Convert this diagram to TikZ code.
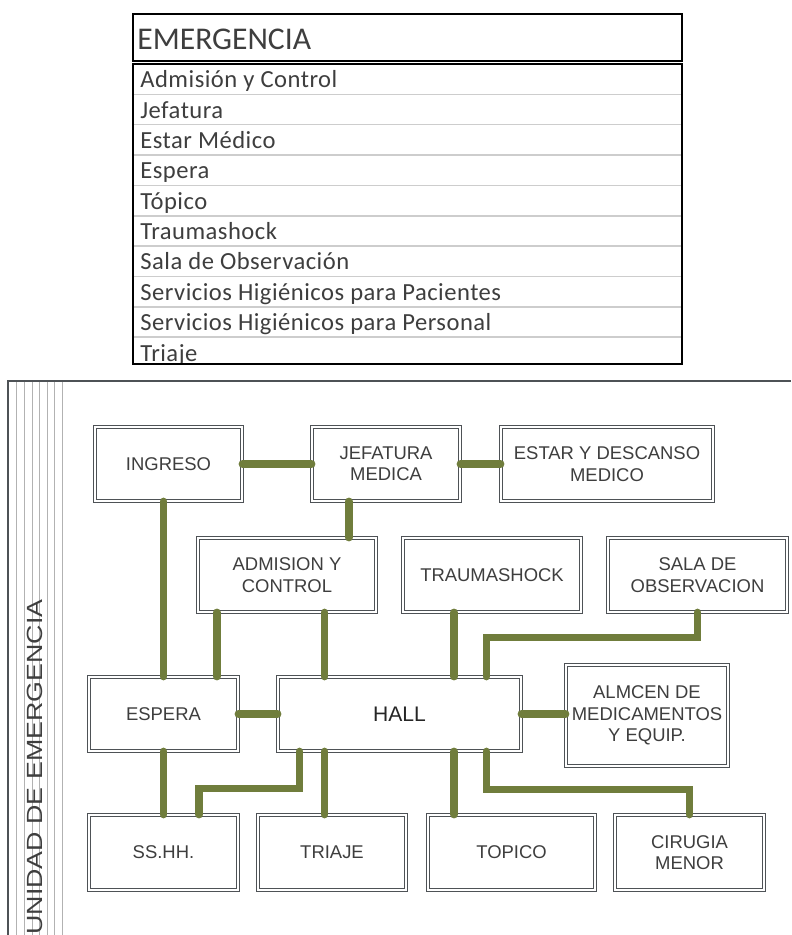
\documentclass[tikz,border=0pt]{standalone}
\usepackage{fontspec}
\setmainfont{Liberation Sans}
\newfontfamily\calfont{Carlito}
\newfontfamily\rowfont{Carlito}[LetterSpace=2]
\usepackage{graphicx}
\usetikzlibrary{calc}
\definecolor{linkgreen}{RGB}{112,125,60}
\definecolor{roomgray}{RGB}{78,82,86}
\definecolor{textgray}{RGB}{62,62,62}
\definecolor{rowgray}{RGB}{205,205,205}
\tikzstyle{room}=[draw=roomgray,line width=0.45pt,double=white,double distance=1.3pt,fill=white,text=textgray,align=center,font=\fontsize{10.5}{12.2}\selectfont,minimum height=1.48cm]
\tikzstyle{link}=[linkgreen,line width=4.3pt,line cap=round]
\tikzstyle{rowtext}=[anchor=base west,inner sep=0pt,text=textgray,font=\rowfont\fontsize{14}{14}\selectfont]

\begin{document}
\begin{tikzpicture}[x=0.02cm,y=-0.02cm]
  \useasboundingbox (0,0) rectangle (791,935);

  % table header
  \draw[line width=1.1pt] (133,14) rectangle (682,61);
  \node[rowtext,font=\calfont\fontsize{18}{18}\selectfont] (title) at (137,50) {EMERGENCIA};

  % table rows
  \begin{scope}
    \clip (133,64) rectangle (682,364);
    \foreach \k in {1,...,9} { \draw[rowgray,line width=0.9pt] (133,{64+30.35*\k}) -- (682,{64+30.35*\k}); }
    \foreach \txt [count=\k] in {Admisión y Control,Jefatura,Estar Médico,Espera,Tópico,Traumashock,Sala de Observación,Servicios Higiénicos para Pacientes,Servicios Higiénicos para Personal,Triaje} {
      \node[rowtext] (row\k) at (140,{64+30.35*\k-6.5}) {\txt};
    }
  \end{scope}
  \draw[line width=1.1pt] (133,64) rectangle (682,364);

  % frame of the unit
  \draw[roomgray,line width=1.1pt] (8,935) -- (8,381) -- (791,381);
  \foreach \x in {16,24,32,39,47,54,62} { \draw[black!30,line width=0.5pt] (\x,382) -- (\x,935); }
  \node[rotate=90,text=textgray,font=\fontsize{12.5}{12.5}\selectfont] (unidad) at (35,767) {\scalebox{1.22}[1]{UNIDAD DE EMERGENCIA}};

  % rooms
  \node[room,minimum width=2.94cm] (ingreso) at (168.5,464) {INGRESO};
  \node[room,minimum width=2.96cm] (jefatura) at (386,464) {JEFATURA\\MEDICA};
  \node[room,minimum width=4.24cm] (estar) at (607,464) {ESTAR Y DESCANSO\\MEDICO};
  \node[room,minimum width=3.56cm] (admision) at (287,575) {ADMISION Y\\CONTROL};
  \node[room,minimum width=3.56cm] (trauma) at (492,575) {TRAUMASHOCK};
  \node[room,minimum width=3.58cm] (sala) at (697.5,575) {SALA DE\\OBSERVACION};
  \node[room,minimum width=2.98cm] (espera) at (163.5,714) {ESPERA};
  \node[room,minimum width=4.86cm,text=black!85,font=\fontsize{12}{12}\selectfont] (hall) at (399.5,714) {HALL};
  \node[room,minimum width=3.24cm,minimum height=2.02cm] (almacen) at (647,715.5) {ALMCEN DE\\MEDICAMENTOS\\Y EQUIP.};
  \node[room,minimum width=2.98cm,minimum height=1.5cm] (sshh) at (163.5,852.5) {SS.HH.};
  \node[room,minimum width=2.96cm,minimum height=1.5cm] (triaje) at (332,852.5) {TRIAJE};
  \node[room,minimum width=3.34cm,minimum height=1.5cm] (topico) at (511.5,852.5) {TOPICO};
  \node[room,minimum width=2.98cm,minimum height=1.5cm] (cirugia) at (689.5,852.5) {CIRUGIA\\MENOR};

  % points on the hall
  \coordinate (ht1) at ($(hall.north west)!0.193!(hall.north east)$);
  \coordinate (ht2) at ($(hall.north west)!0.724!(hall.north east)$);
  \coordinate (ht3) at ($(hall.north west)!0.856!(hall.north east)$);
  \coordinate (hb1) at ($(hall.south west)!0.09!(hall.south east)$);
  \coordinate (hb2) at ($(hall.south west)!0.193!(hall.south east)$);
  \coordinate (hb3) at ($(hall.south west)!0.724!(hall.south east)$);
  \coordinate (hb4) at ($(hall.south west)!0.856!(hall.south east)$);
  \coordinate (jb) at ($(jefatura.south west)!0.25!(jefatura.south east)$);
  \coordinate (ab) at ($(admision.south west)!0.107!(admision.south east)$);
  \coordinate (st) at ($(sshh.north west)!0.738!(sshh.north east)$);

  % connections
  \draw[link] (ingreso.east) -- (jefatura.west);
  \draw[link] (jefatura.east) -- (estar.west);
  \draw[link] (espera.north) -- (espera.north |- ingreso.south);
  \draw[link] (jb) -- (jb |- admision.north);
  \draw[link] (ab) -- (ab |- espera.north);
  \draw[link] (ht1) -- (ht1 |- admision.south);
  \draw[link] (ht2) -- (ht2 |- trauma.south);
  \draw[link] (sala.south) -- ++(0,25) -| (ht3);
  \draw[link] (espera.east) -- (hall.west);
  \draw[link] (hall.east) -- (hall.east -| almacen.west);
  \draw[link] (espera.south) -- (sshh.north);
  \draw[link] (hb1) -- ++(0,37) -| (st);
  \draw[link] (hb2) -- (hb2 |- triaje.north);
  \draw[link] (hb3) -- (hb3 |- topico.north);
  \draw[link] (hb4) -- ++(0,38) -| (cirugia.north);

\end{tikzpicture}
\end{document}
